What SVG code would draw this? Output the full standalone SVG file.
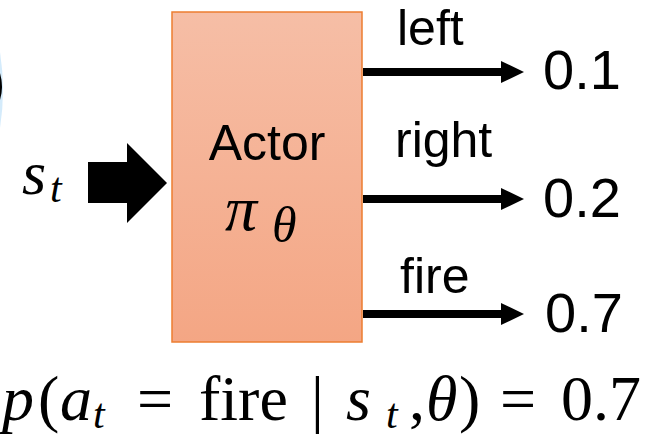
<svg xmlns="http://www.w3.org/2000/svg" width="658" height="434" viewBox="0 0 658 434">
<defs>
<linearGradient id="g" x1="0" y1="0" x2="0" y2="1">
<stop offset="0" stop-color="#F6BEA6"/>
<stop offset="1" stop-color="#F4A684"/>
</linearGradient>
<marker id="ah" markerUnits="userSpaceOnUse" markerWidth="24" markerHeight="24" refX="0" refY="11" orient="auto" viewBox="0 0 24 22">
<path d="M0,0 L23,11 L0,22 Z" fill="#000"/>
</marker>
</defs>
<style>
.lbl{font-family:"Liberation Sans",Arial,sans-serif;font-size:50px;fill:#000}
.num{font-family:"Liberation Sans",Arial,sans-serif;font-size:56px;fill:#000}
.m{font-family:"Liberation Serif","Times New Roman",serif;fill:#000}
.i{font-style:italic}
.conn{stroke:#000;stroke-width:8;fill:none}
</style>
<g id="partial">
<path d="M0,52 Q6,90 0,128 Z" fill="#D4EBFB"/>
<path d="M0,73 Q4,87 0,100 Z" fill="#000"/>
</g>
<g id="state">
<text class="m i" x="22" y="194" font-size="62">s</text>
<text class="m i" x="50" y="202" font-size="42">t</text>
<path d="M88,162 H127 V143 L167,183 L127,223 V203 H88 Z" fill="#000"/>
</g>
<g id="actor">
<rect x="172" y="12" width="190" height="330" fill="url(#g)" stroke="#ED7D31" stroke-width="1.5"/>
<text class="lbl" x="267" y="160" text-anchor="middle" font-size="60">Actor</text>
<text class="m i" x="225" y="230" font-size="64">π</text>
<text class="m i" x="272" y="242" font-size="50">θ</text>
</g>
<g id="connectors">
<line class="conn" x1="363" y1="72" x2="501" y2="72" marker-end="url(#ah)"/>
<line class="conn" x1="363" y1="199" x2="501" y2="199" marker-end="url(#ah)"/>
<line class="conn" x1="363" y1="314" x2="501" y2="314" marker-end="url(#ah)"/>
</g>
<g id="left">
<text class="lbl" x="397" y="45">left</text>
<text class="num" x="543" y="89">0.1</text>
</g>
<g id="right">
<text class="lbl" x="395" y="157">right</text>
<text class="num" x="543" y="217">0.2</text>
</g>
<g id="fire">
<text class="lbl" x="400" y="293">fire</text>
<text class="num" x="545" y="332">0.7</text>
</g>
<g id="formula" font-size="64">
<text class="m i" x="2" y="420">p</text>
<text class="m" x="38" y="420">(</text>
<text class="m i" x="60" y="420">a</text>
<text class="m i" x="93" y="428" font-size="42">t</text>
<text class="m" x="137" y="420">=</text>
<text class="m" x="199" y="420">fire</text>
<text class="m" x="311" y="420">|</text>
<text class="m i" x="346" y="420">s</text>
<text class="m i" x="386" y="428" font-size="42">t</text>
<text class="m" x="409" y="420">,</text>
<text class="m i" x="426" y="420">θ</text>
<text class="m" x="459" y="420">)</text>
<text class="m" x="500" y="420">=</text>
<text class="m" x="561" y="420">0.7</text>
</g>
</svg>
